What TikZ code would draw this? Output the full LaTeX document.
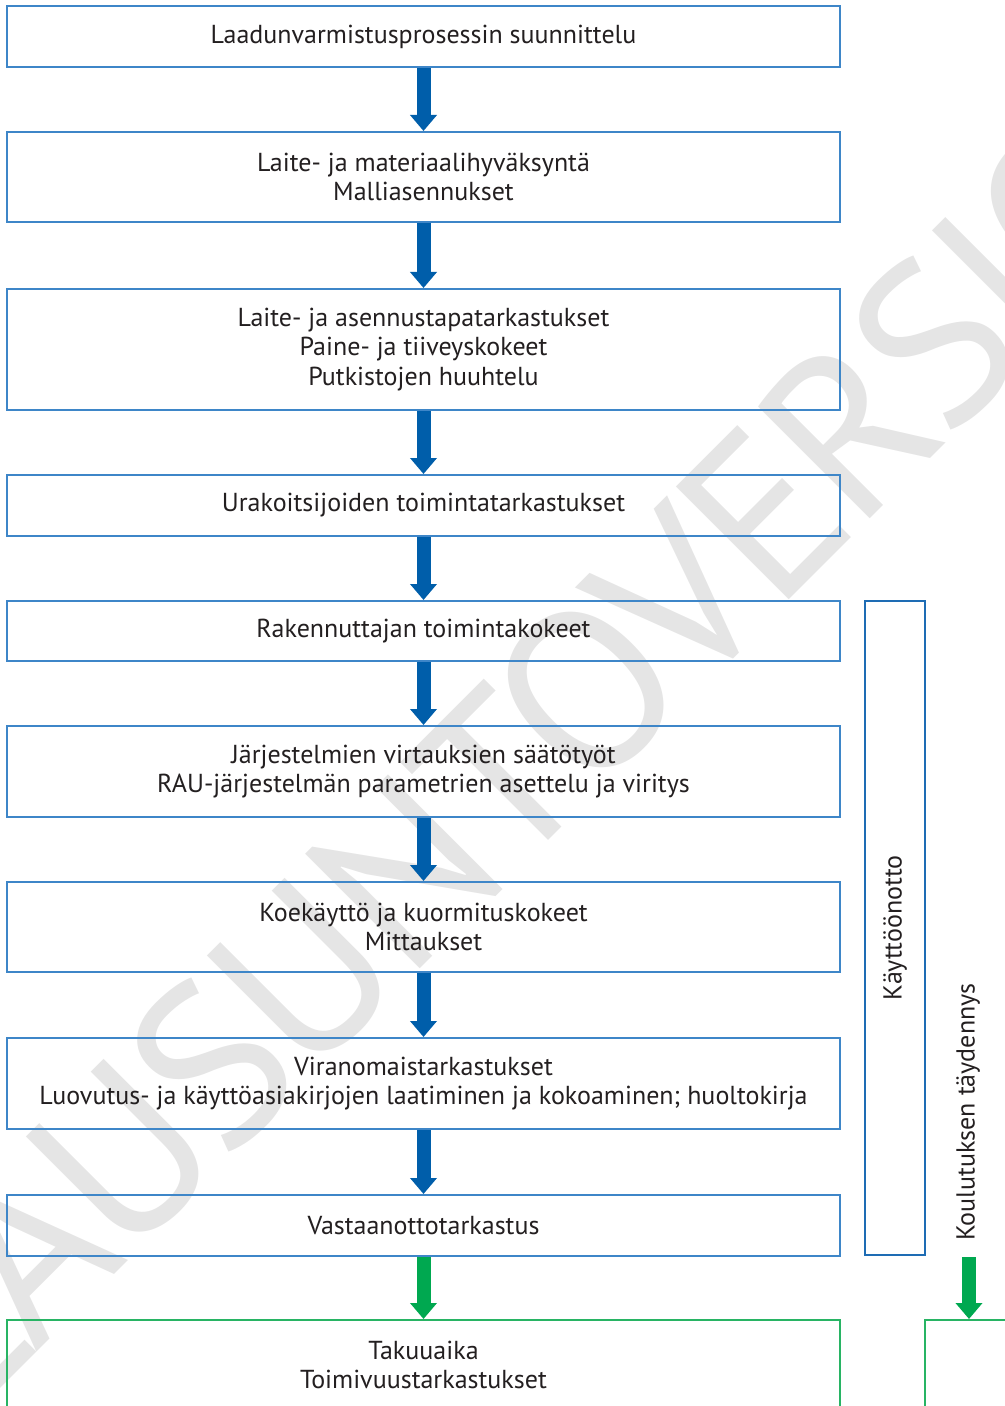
\documentclass[tikz,border=0pt]{standalone}
\usepackage{fontspec}
\setmainfont{PT Sans}
\newfontfamily\markfont[LetterSpace=-3]{PT Sans}
\usetikzlibrary{arrows.meta,positioning}
\definecolor{lineblue}{RGB}{62,134,200}
\definecolor{darkblue}{RGB}{30,108,180}
\definecolor{arrowblue}{RGB}{0,94,170}
\definecolor{arrowgreen}{RGB}{0,168,80}
\definecolor{linegreen}{RGB}{40,180,100}
\definecolor{txt}{RGB}{35,31,32}
\definecolor{mark}{RGB}{229,229,229}
\tikzstyle{box}=[rectangle, draw=lineblue, line width=1pt, minimum width=416.5pt, inner sep=0pt, align=center, text=txt, font=\fontsize{13}{14.75}\selectfont]
\tikzstyle{flow}=[line width=7pt, arrowblue, -{Triangle[width=13pt,length=8pt]}]
\tikzstyle{annot}=[text=txt, font=\fontsize{13}{14.75}\selectfont]

\begin{document}
\begin{tikzpicture}[x=0.5pt, y=-0.5pt]
	\useasboundingbox (0,0) rectangle (1005,1406);
	\clip (0,0) rectangle (1005,1406);

	% watermark
	\node[rotate=45, text=mark, inner sep=0pt, font=\markfont\fontsize{114}{114}\selectfont] (leima) at (512,764) {LAUSUNTOVERSIO};

	\node[box, minimum height=30.5pt] (suunnittelu) at (423.5,36.5) {Laadunvarmistusprosessin suunnittelu};
	\node[box, minimum height=45pt] (hyvaksynta) at (423.5,177) {Laite- ja materiaalihyväksyntä\\Malliasennukset};
	\node[box, minimum height=60.5pt] (asennus) at (423.5,349.5) {Laite- ja asennustapatarkastukset\\Paine- ja tiiveyskokeet\\Putkistojen huuhtelu};
	\node[box, minimum height=30.5pt] (urakoitsija) at (423.5,505.5) {Urakoitsijoiden toimintatarkastukset};
	\node[box, minimum height=30pt] (rakennuttaja) at (423.5,631) {Rakennuttajan toimintakokeet};
	\node[box, minimum height=45.5pt] (saato) at (423.5,771.5) {Järjestelmien virtauksien säätötyöt\\RAU-järjestelmän parametrien asettelu ja viritys};
	\node[box, minimum height=45pt] (koekaytto) at (423.5,927) {Koekäyttö ja kuormituskokeet\\Mittaukset};
	\node[box, minimum height=45.5pt] (viranomainen) at (423.5,1083.5) {Viranomaistarkastukset\\Luovutus- ja käyttöasiakirjojen laatiminen ja kokoaminen; huoltokirja};
	\node[box, minimum height=30.5pt] (vastaanotto) at (423.5,1225.5) {Vastaanottotarkastus};
	\node[box, draw=linegreen, minimum height=45pt] (takuu) at (423.5,1365) {Takuuaika\\Toimivuustarkastukset};

	\node[box, draw=darkblue, rotate=90, minimum width=327pt, minimum height=30pt] (kayttoonotto) at (895,928) {Käyttöönotto};
	\node[annot, rotate=90] (koulutus) at (968,1112) {Koulutuksen täydennys};
	\node[box, draw=linegreen, minimum width=44pt, minimum height=45pt] (jatko) at (969,1365) {};

	\foreach \a/\b in {suunnittelu/hyvaksynta, hyvaksynta/asennus, asennus/urakoitsija, urakoitsija/rakennuttaja, rakennuttaja/saato, saato/koekaytto, koekaytto/viranomainen, viranomainen/vastaanotto}
		\draw[flow] (\a.south) -- (\b.north);
	\draw[flow, arrowgreen] (vastaanotto.south) -- (takuu.north);
	\draw[flow, arrowgreen] (jatko.north |- vastaanotto.south) -- (jatko.north);

\end{tikzpicture}
\end{document}
